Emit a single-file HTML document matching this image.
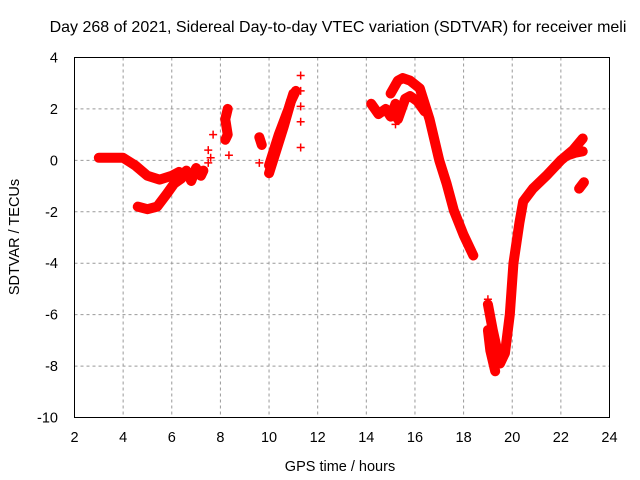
<!DOCTYPE html>
<html><head><meta charset="utf-8"><style>
body{margin:0;background:#fff;}
svg{display:block;font-family:"Liberation Sans",sans-serif;}
</style></head><body>
<svg id="c" width="640" height="480">
<text x="338" y="32" text-anchor="middle" font-size="16">Day 268 of 2021, Sidereal Day-to-day VTEC variation (SDTVAR) for receiver meli</text>
<text x="340" y="471" text-anchor="middle" font-size="14.5">GPS time / hours</text>
<text transform="translate(19,237) rotate(-90)" text-anchor="middle" font-size="14.5">SDTVAR / TECUs</text>
<g id="grid"></g><g id="ticks"></g><g id="data"></g>
<rect x="74.5" y="57.5" width="535" height="360" fill="none" stroke="#000"/>
</svg>
<script>
const xTicks=[2,4,6,8,10,12,14,16,18,20,22,24];
const yTicks=[4,2,0,-2,-4,-6,-8,-10];
const seriesHours=[
[3.0,3.5,4.0,4.5,5.0,5.5,6.0,6.3],
[4.6,5.0,5.4,5.8,6.1,6.4],
[6.6,6.8,7.0,7.2,7.3],
[8.3,8.2,8.3,8.2],
[9.6,9.7],
[10.0,10.3,10.6,10.9,11.1],
[10.0,10.4,10.8,11.0],
[14.2,14.5,14.8,15.0,15.2],
[15.0,15.3,15.5,15.8,16.2,16.6,17.0,17.3,17.6,18.0,18.4],
[15.3,15.6,15.8,16.1,16.4],
[19.0,19.2,19.5,19.7,19.9,20.05,20.3,20.45,20.85,21.4,22.0,22.5,22.9],
[22.3,22.6,22.9],
[19.0,19.1,19.3],
[22.75,22.95]
];
const seriesValues=[
[0.1,0.1,0.1,-0.2,-0.6,-0.75,-0.6,-0.45],
[-1.8,-1.9,-1.8,-1.3,-0.9,-0.7],
[-0.4,-0.8,-0.3,-0.6,-0.4],
[2.0,1.6,1.0,0.8],
[0.9,0.6],
[-0.5,0.4,1.3,2.3,2.7],
[-0.2,1.0,2.0,2.6],
[2.2,1.8,2.0,1.7,2.2],
[2.6,3.1,3.2,3.1,2.8,1.6,0.0,-0.9,-1.95,-2.9,-3.7],
[1.6,2.4,2.5,2.3,1.9],
[-5.6,-6.6,-7.9,-7.5,-6.0,-4.0,-2.4,-1.6,-1.1,-0.6,0.0,0.4,0.85],
[0.2,0.3,0.35],
[-6.6,-7.4,-8.2],
[-1.1,-0.85]
];
const pointHours=[7.5,7.6,7.7,7.5,8.35,9.6,11.3,11.3,11.3,11.3,11.3,15.2,19.0];
const pointValues=[0.4,0.1,1.0,-0.1,0.2,-0.1,3.3,2.7,2.1,1.5,0.5,1.4,-5.4];
const X=h=>74.5+(h-2)*535/22;
const Y=v=>57.5+(4-v)*360/14;
const NS="http://www.w3.org/2000/svg";
const grid=document.getElementById('grid'),ticks=document.getElementById('ticks'),data=document.getElementById('data');
function mk(t,a,p){const e=document.createElementNS(NS,t);for(const k in a)e.setAttribute(k,a[k]);p.appendChild(e);return e;}
xTicks.forEach(t=>{
 if(t>2&&t<24){const g=mk('line',{x1:X(t),x2:X(t),y1:57.5,y2:417.5,stroke:'#999','stroke-dasharray':'3,3'},grid);
 
 }
 const l=mk('text',{x:X(t),y:442,'text-anchor':'middle','font-size':'14.5'},ticks);l.textContent=t;
 
 
});
yTicks.forEach(t=>{
 if(t<4&&t>-10){const g=mk('line',{x1:74.5,x2:609.5,y1:Y(t),y2:Y(t),stroke:'#999','stroke-dasharray':'3,3'},grid);
 
 }
 const l=mk('text',{x:58,y:Y(t)+5,'text-anchor':'end','font-size':'14.5'},ticks);l.textContent=t;
 
 
});
function plus(h,v){const x=X(h),y=Y(v);
 const p=mk('path',{d:`M${x-4},${y}H${x+4}M${x},${y-4}V${y+4}`,stroke:'#f00','stroke-width':1.5},data);
 
 }
seriesHours.forEach((hs,i)=>{
 const pts=hs.map((h,j)=>X(h)+','+Y(seriesValues[i][j])).join(' ');
 const pl=mk('polyline',{points:pts,fill:'none',stroke:'#f00','stroke-width':10,'stroke-linejoin':'round','stroke-linecap':'round'},data);
 
 
 hs.forEach((h,j)=>plus(h,seriesValues[i][j]));
});
pointHours.forEach((h,i)=>plus(h,pointValues[i]));
</script>
</body></html>
